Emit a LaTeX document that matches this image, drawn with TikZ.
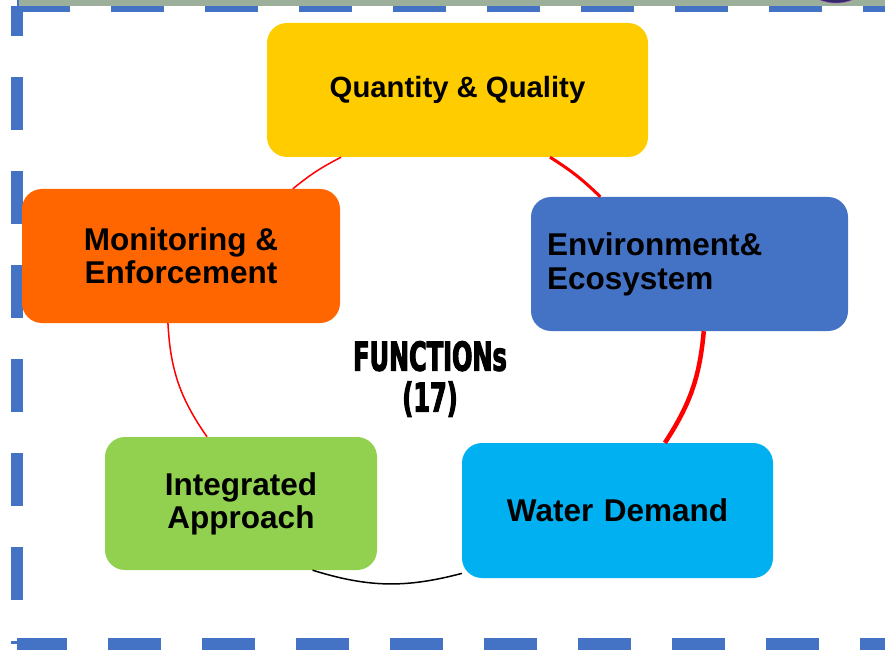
\documentclass[tikz,border=0pt]{standalone}
\usepackage{fontspec}
\setmainfont{Liberation Sans}
\newfontfamily\funcfont[FakeStretch=0.6, FakeBold=2.5]{DejaVu Sans Bold}
\usetikzlibrary{positioning}

\definecolor{qqyellow}{HTML}{FFCC00}
\definecolor{eeblue}{HTML}{4472C4}
\definecolor{wdcyan}{HTML}{00B0F0}
\definecolor{iagreen}{HTML}{92D050}
\definecolor{moorange}{HTML}{FF6600}
\definecolor{bargray}{HTML}{9CAF9A}
\definecolor{blobpurple}{HTML}{33296E}

\begin{document}
\begin{tikzpicture}[x = 1pt, y = 1pt,
    every node/.style = { align = center, font = \bfseries\fontsize{31.5}{33}\selectfont },
    box/.style = { rounded corners = 20pt, minimum height = 134pt, inner sep = 0pt },
    frame/.style = { eeblue, line width = 12pt, dash pattern = on 53pt off 41pt },
    ring/.style = { red, line width = 1.5pt, bend left = 15 }]
    \useasboundingbox (0,0) rectangle (885,649);
    \clip (0,0) rectangle (885,649);

    % dashed frame and title bar
    \draw [frame, dash phase = 23pt] (17,643) -- (17,5);
    \draw [frame] (17,643) -- (900,643);
    \draw [frame, dash phase = 3pt] (17,5) -- (900,5);
    \fill [bargray] (19,643) rectangle (885,649);
    \draw [fill = blobpurple, draw = violet!70] (836,690) circle (44);

    % the five functions
    \node [box, fill = qqyellow, minimum width = 381pt, font = \bfseries\fontsize{29.3}{33}\selectfont] (qq) at (457.5,559) {Quantity \& Quality};
    \node [box, fill = eeblue, minimum width = 317pt, text width = 285pt, align = left, font = \bfseries\fontsize{31.5}{34}\selectfont] (ee) at (689.5,385) { Environment\&\\Ecosystem };
    \node [box, fill = wdcyan, minimum width = 311pt, minimum height = 135pt, text width = 311pt] (wd) at (617.5,138.5) {Water Demand};
    \node [box, fill = iagreen, minimum width = 272pt, minimum height = 133pt] (ia) at (241,145.5) { Integrated\\Approach };
    \node [box, fill = moorange, minimum width = 318pt] (mo) at (181,393) { Monitoring \&\\Enforcement };

    \node [font = \funcfont\fontsize{40}{41}\selectfont] (func) at (430,270) { FUNCTIONs\\(17) };

    % cycle arcs
    \draw [ring, bend left = 6] (mo.31) to (qq.210);
    \draw [ring, line width = 3pt, bend left = 6] (qq.-36) to (ee.143);
    \draw [ring, line width = 4.5pt, bend left = 14] (ee.-78) to (wd.55);
    \draw [ring, black, bend left = 16] (wd.202) to (ia.-43);
    \draw [ring, bend left = 16] (ia.117) to (mo.-101);
\end{tikzpicture}
\end{document}
